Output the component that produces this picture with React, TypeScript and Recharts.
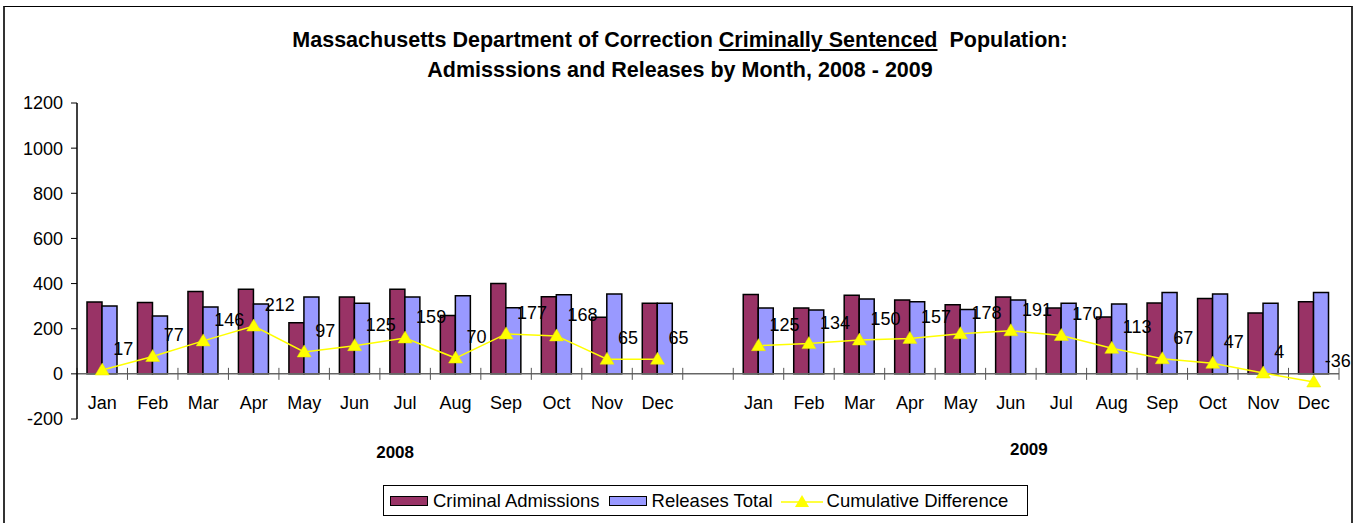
import React from 'react';
import {
  ComposedChart, Bar, Line, XAxis, YAxis, ReferenceLine, Legend, LabelList,
} from 'recharts';

const months = ['Jan', 'Feb', 'Mar', 'Apr', 'May', 'Jun', 'Jul', 'Aug', 'Sep', 'Oct', 'Nov', 'Dec'];
const years = ['2008', '2009'];

const admissions2008 = [318, 316, 365, 375, 226, 340, 375, 258, 400, 342, 251, 313];
const releases2008 = [301, 256, 296, 309, 341, 313, 340, 346, 293, 351, 354, 313];
const cumulative2008 = [17, 77, 146, 212, 97, 125, 159, 70, 177, 168, 65, 65];

const admissions2009 = [352, 292, 348, 327, 306, 340, 292, 252, 314, 334, 270, 320];
const releases2009 = [292, 283, 332, 320, 285, 327, 313, 309, 360, 354, 313, 360];
const cumulative2009 = [125, 134, 150, 157, 178, 191, 170, 113, 67, 47, 4, -36];

const yTicks = [-200, 0, 200, 400, 600, 800, 1000, 1200];

type Row = { key: string; month: string; year: string; adm: number | null; rel: number | null; cum: number | null };

const data: Row[] = [
  ...months.map((m, i) => ({ key: `2008-${m}`, month: m, year: years[0], adm: admissions2008[i], rel: releases2008[i], cum: cumulative2008[i] })),
  { key: 'gap', month: '', year: '', adm: null, rel: null, cum: null },
  ...months.map((m, i) => ({ key: `2009-${m}`, month: m, year: years[1], adm: admissions2009[i], rel: releases2009[i], cum: cumulative2009[i] })),
];

const ADM = '#993366';
const REL = '#9999FF';
const CUM = '#FFFF00';
const FONT = 'Arial, "Liberation Sans", sans-serif';

const MonthTick = (props: any) => {
  const { x, y, index } = props;
  const row = data[index];
  if (!row) return null;
  let yearLabel: React.ReactNode = null;
  if (index === 6) {
    yearLabel = (
      <text x={x - 10} y={y + 39} textAnchor="middle" fontSize={17} fontWeight="bold" fill="#000" fontFamily={FONT}>{row.year}</text>
    );
  }
  if (index === 18) {
    yearLabel = (
      <text x={x + 18} y={y + 36} textAnchor="middle" fontSize={17} fontWeight="bold" fill="#000" fontFamily={FONT}>{row.year}</text>
    );
  }
  return (
    <g>
      <text x={x} y={y - 10} textAnchor="middle" fontSize={18} fill="#000" fontFamily={FONT}>{row.month}</text>
      {yearLabel}
    </g>
  );
};

const ZeroAxis = (props: any) => {
  const { x1, y1, x2, y2 } = props;
  const n = data.length;
  const step = (x2 - x1) / n;
  const ticks = [];
  for (let i = 0; i <= n; i++) {
    const tx = x1 + i * step;
    ticks.push(<line key={i} x1={tx} x2={tx} y1={y1 - 6} y2={y1 + 6} stroke="#555" strokeWidth={1} />);
  }
  return (
    <g>
      <line x1={x1} y1={y1} x2={x2} y2={y2} stroke="#666" strokeWidth={1.5} />
      {ticks}
    </g>
  );
};

const Triangle = (props: any) => {
  const { cx, cy, value } = props;
  if (value === null || value === undefined || cx == null || cy == null) return null;
  return (
    <polygon
      points={`${cx},${cy - 7} ${cx - 7},${cy + 5} ${cx + 7},${cy + 5}`}
      fill={CUM}
      stroke="#E8E800"
      strokeWidth={0.5}
    />
  );
};

const CumLabel = (props: any) => {
  const { x, y, value } = props;
  if (value === null || value === undefined) return null;
  return (
    <text x={x + 11} y={y - 15} fontSize={18} fill="#000" fontFamily={FONT}>{value}</text>
  );
};

const LegendContent = () => (
  <div
    style={{
      display: 'flex', alignItems: 'center', height: 31, boxSizing: 'border-box',
      border: '1px solid #000', fontSize: 18.5, fontFamily: FONT, color: '#000', paddingLeft: 6, background: '#fff',
    }}
  >
    <span style={{ display: 'inline-block', width: 36, height: 8, background: ADM, border: '1.5px solid #000', marginRight: 5 }} />
    <span style={{ marginRight: 9 }}>Criminal Admissions</span>
    <span style={{ display: 'inline-block', width: 36, height: 8, background: REL, border: '1.5px solid #000', marginRight: 5 }} />
    <span style={{ marginRight: 8 }}>Releases Total</span>
    <svg width={42} height={16} style={{ marginRight: 4 }}>
      <line x1={0} y1={9} x2={42} y2={9} stroke={CUM} strokeWidth={1.5} />
      <polygon points="21,2 14,14 28,14" fill={CUM} />
    </svg>
    <span>Cumulative Difference</span>
  </div>
);

export default function App() {
  return (
    <div style={{ position: 'absolute', left: 0, top: 0, width: 1353, height: 523, background: '#fff', fontFamily: FONT, overflow: 'hidden' }}>
      <div style={{ position: 'absolute', left: 3, top: 6, width: 1346, height: 530, borderTop: '1.5px solid #000', borderLeft: '2px solid #333', borderRight: '2px solid #333' }} />
      <div style={{ position: 'absolute', left: 0, top: 25, width: 1360, textAlign: 'center', fontWeight: 'bold', fontSize: 21.5, lineHeight: '30px', color: '#000', fontFamily: FONT }}>
        <div>
          Massachusetts Department of Correction <span style={{ textDecoration: 'underline' }}>Criminally Sentenced</span>&nbsp; Population:
        </div>
        <div>Admisssions and Releases by Month, 2008 - 2009</div>
      </div>
      <ComposedChart
        width={1353}
        height={523}
        data={data}
        margin={{ top: 103, right: 14, bottom: 64, left: 17 }}
        barGap={0}
        style={{ position: 'absolute', left: 0, top: 0 }}
      >
        <XAxis
          dataKey="key"
          axisLine={false}
          tickLine={false}
          tickSize={0}
          tickMargin={0}
          height={40}
          interval={0}
          tick={<MonthTick />}
        />
        <YAxis
          width={60}
          domain={[-200, 1200]}
          ticks={yTicks}
          interval={0}
          tick={{ fontSize: 18, fill: '#000', fontFamily: FONT }}
          tickSize={6}
          tickMargin={8}
          axisLine={{ stroke: '#000', strokeWidth: 1.5 }}
          tickLine={{ stroke: '#000' }}
        />
        <ReferenceLine y={0} shape={<ZeroAxis />} ifOverflow="visible" />
        <Bar dataKey="adm" name="Criminal Admissions" fill={ADM} stroke="#000" strokeWidth={1.5} barSize={15} isAnimationActive={false} />
        <Bar dataKey="rel" name="Releases Total" fill={REL} stroke="#000" strokeWidth={1.5} barSize={15} isAnimationActive={false} />
        <Line
          dataKey="cum"
          name="Cumulative Difference"
          stroke={CUM}
          strokeWidth={1.5}
          dot={<Triangle />}
          activeDot={false}
          connectNulls={false}
          isAnimationActive={false}
        >
          <LabelList dataKey="cum" content={<CumLabel />} />
        </Line>
        <Legend
          layout="horizontal"
          verticalAlign="middle"
          align="center"
          content={<LegendContent />}
          wrapperStyle={{ position: 'absolute', left: 383, top: 485, width: 645, height: 31 }}
        />
      </ComposedChart>
    </div>
  );
}
